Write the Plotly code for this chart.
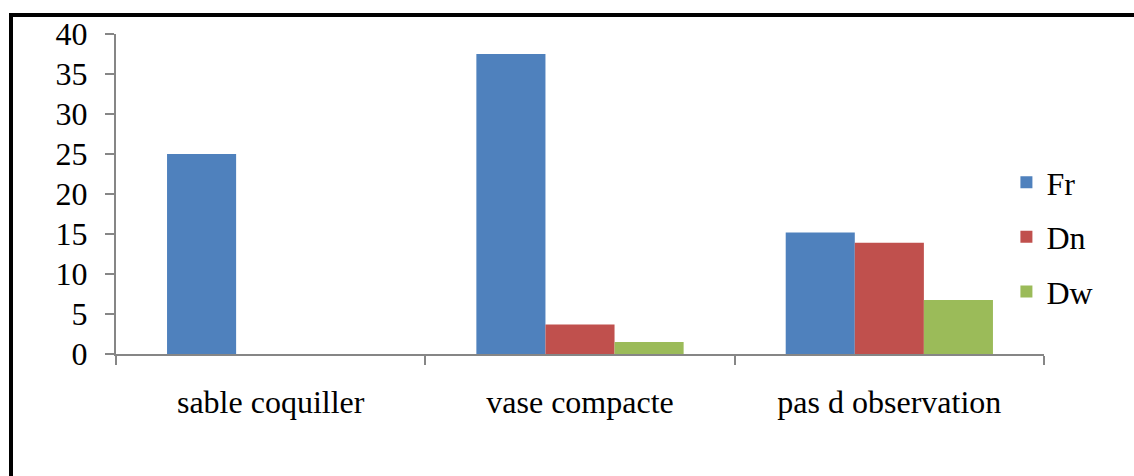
import plotly.graph_objects as go

categories = ["sable coquiller", "vase compacte", "pas d observation"]
fr = [25, 37.5, 15.2]
dn = [0, 3.7, 13.9]
dw = [0, 1.5, 6.75]
y_ticks = [0, 5, 10, 15, 20, 25, 30, 35, 40]

FONT = "Liberation Serif"
AX = "#868686"

fig = go.Figure()
for name, vals, col in [("Fr", fr, "#4F81BD"), ("Dn", dn, "#C0504D"), ("Dw", dw, "#9BBB59")]:
    fig.add_trace(go.Bar(x=categories, y=vals, name=name, marker=dict(color=col, line=dict(width=0)),
                         legendgroup=name))

fig.update_layout(
    width=1134, height=476,
    margin=dict(l=116, r=90, t=34, b=122),
    paper_bgcolor="white", plot_bgcolor="white",
    barmode="group", bargap=0.33, bargroupgap=0,
    font=dict(family=FONT, size=32, color="black"),
    showlegend=True,
    legend=dict(x=0.9595, xanchor="left", y=0.366, yanchor="middle",
                font=dict(family=FONT, size=32), tracegroupgap=10, bgcolor="rgba(0,0,0,0)"),
    xaxis=dict(showline=True, linecolor=AX, linewidth=2, ticks="outside", tickson="boundaries",
               ticklen=9, tickcolor=AX, tickwidth=2, showgrid=False, ticklabelstandoff=19,
               tickfont=dict(family=FONT, size=32)),
    yaxis=dict(range=[0, 40], tickvals=y_ticks, showline=True, linecolor=AX, linewidth=2,
               ticks="outside", ticklen=9, tickcolor=AX, tickwidth=2, showgrid=False,
               zeroline=False, ticklabelstandoff=11, tickfont=dict(family=FONT, size=32)),
)

# outer frame (top and left lines)
fig.add_shape(type="line", xref="paper", yref="paper",
              x0=(11 - 116) / 928, x1=(1134 - 116) / 928, y0=(354 - 15) / 320, y1=(354 - 15) / 320,
              line=dict(color="black", width=4))
fig.add_shape(type="line", xref="paper", yref="paper",
              x0=(11 - 116) / 928, x1=(11 - 116) / 928, y0=(354 - 13) / 320, y1=(354 - 480) / 320,
              line=dict(color="black", width=4))

fig.write_html("out.html", config={"displayModeBar": False},
               post_script="document.body.style.margin='0';")
